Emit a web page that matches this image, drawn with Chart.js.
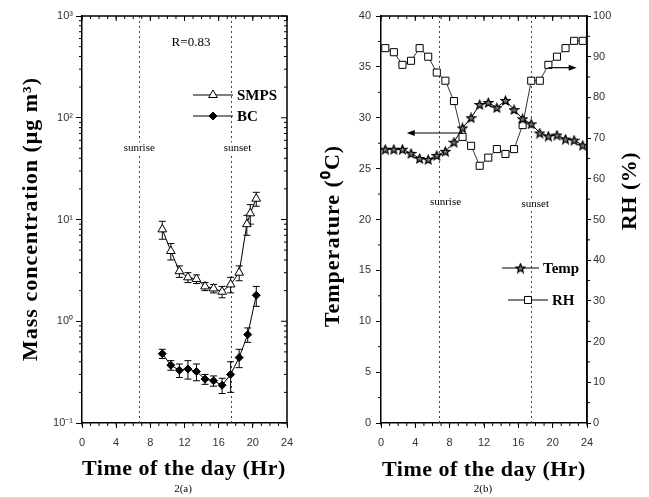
<!DOCTYPE html>
<html>
<head>
<meta charset="utf-8">
<script src="https://cdn.jsdelivr.net/npm/chart.js@4.4.1/dist/chart.umd.min.js"></script>
<style>
html, body { margin:0; padding:0; background:#fff; }
#ca { position:absolute; left:0; top:0; }
#cb { position:absolute; left:320px; top:0; }
</style>
</head>
<body>
<canvas id="ca" width="320" height="497"></canvas>
<canvas id="cb" width="329" height="497"></canvas>
<script>
// 2(a) mass concentration
var smpsHour = [9.4, 10.4, 11.4, 12.4, 13.4, 14.4, 15.4, 16.4, 17.4, 18.4, 19.3, 19.7, 20.4];
var smpsMass = [8.0, 4.9, 3.1, 2.7, 2.6, 2.2, 2.1, 1.95, 2.3, 3.0, 9.0, 11.5, 16.0];
var smpsErr  = [1.6, 0.9, 0.4, 0.3, 0.25, 0.2, 0.2, 0.25, 0.4, 0.5, 2.0, 2.5, 2.5];
var bcHour = [9.4, 10.4, 11.4, 12.4, 13.4, 14.4, 15.4, 16.4, 17.4, 18.4, 19.4, 20.4];
var bcMass = [0.48, 0.37, 0.33, 0.34, 0.32, 0.27, 0.26, 0.235, 0.3, 0.44, 0.74, 1.8];
var bcErr  = [0.05, 0.04, 0.05, 0.07, 0.06, 0.03, 0.03, 0.04, 0.1, 0.09, 0.12, 0.4];
var massTicks = [0.1, 1, 10, 100, 1000];

// 2(b) temperature and RH
var hours = [0.5, 1.5, 2.5, 3.5, 4.5, 5.5, 6.5, 7.5, 8.5, 9.5, 10.5, 11.5,
             12.5, 13.5, 14.5, 15.5, 16.5, 17.5, 18.5, 19.5, 20.5, 21.5, 22.5, 23.5];
var temp = [26.9, 26.9, 26.9, 26.5, 26.0, 25.9, 26.3, 26.7, 27.6, 29.0, 30.0, 31.3,
            31.5, 31.0, 31.7, 30.8, 29.9, 29.4, 28.5, 28.2, 28.3, 27.9, 27.8, 27.3];
var rh = [92.1, 91.1, 88.0, 89.0, 92.1, 90.0, 86.1, 84.1, 79.1, 70.3, 68.1, 63.2,
          65.2, 67.3, 66.1, 67.3, 73.2, 84.1, 84.1, 88.0, 90.0, 92.1, 93.9, 93.9];

var hourTicks = [0, 4, 8, 12, 16, 20, 24];
var sunrise = 6.7, sunset = 17.5;

function pts(xs, ys) { return xs.map(function(x, i){ return {x:x, y:ys[i]}; }); }
function range(a, b, s) { var r = []; for (var v = a; v <= b + 1e-9; v += s) r.push(v); return r; }

var sup = {'-1':'⁻¹', '0':'⁰', '1':'¹', '2':'²', '3':'³'};
var tickFont = {family:'Liberation Sans, Arial', size:11};
var tickColor = '#333';

function makeStar(size) {
  var c = document.createElement('canvas');
  c.width = c.height = size;
  var g = c.getContext('2d');
  var r = size / 2 - 1, cx = size / 2, cy = size / 2 + 0.5;
  g.beginPath();
  for (var i = 0; i < 10; i++) {
    var a = -Math.PI / 2 + i * Math.PI / 5;
    var rr = i % 2 ? r * 0.45 : r;
    g.lineTo(cx + rr * Math.cos(a), cy + rr * Math.sin(a));
  }
  g.closePath();
  g.fillStyle = '#777'; g.fill();
  g.lineWidth = 1.3; g.strokeStyle = '#000'; g.stroke();
  return c;
}
var star = makeStar(11);

function tickLine(ctx, scale, values, len, side, ca) {
  ctx.beginPath();
  values.forEach(function(v){
    var p = scale.getPixelForValue(v);
    if (side === 'bottom') { ctx.moveTo(p, ca.bottom); ctx.lineTo(p, ca.bottom + len); }
    if (side === 'top') { ctx.moveTo(p, ca.top); ctx.lineTo(p, ca.top - len); }
    if (side === 'left') { ctx.moveTo(ca.left, p); ctx.lineTo(ca.left - len, p); }
    if (side === 'right') { ctx.moveTo(ca.right, p); ctx.lineTo(ca.right + len, p); }
  });
  ctx.stroke();
}

var extras = {
  id: 'extras',
  beforeDatasetsDraw: function(chart, args, o) {
    var ctx = chart.ctx, ca = chart.chartArea, sx = chart.scales.x;
    ctx.save();
    // sunrise / sunset lines
    ctx.strokeStyle = '#444'; ctx.lineWidth = 1; ctx.setLineDash([2, 3]);
    [sunrise, sunset].forEach(function(h){
      var x = Math.round(sx.getPixelForValue(h)) + 0.5;
      ctx.beginPath(); ctx.moveTo(x, ca.top); ctx.lineTo(x, ca.bottom); ctx.stroke();
    });
    ctx.setLineDash([]);
    // error bars
    ctx.strokeStyle = '#000';
    chart.data.datasets.forEach(function(ds, i){
      if (!ds.err) return;
      var sy = chart.scales[ds.yAxisID || 'y'];
      ds.data.forEach(function(p, j){
        var x = sx.getPixelForValue(p.x);
        var y1 = sy.getPixelForValue(p.y + ds.err[j]);
        var y2 = sy.getPixelForValue(Math.max(p.y - ds.err[j], 1e-3));
        ctx.beginPath();
        ctx.moveTo(x, y1); ctx.lineTo(x, y2);
        ctx.moveTo(x - 3.5, y1); ctx.lineTo(x + 3.5, y1);
        ctx.moveTo(x - 3.5, y2); ctx.lineTo(x + 3.5, y2);
        ctx.stroke();
      });
    });
    ctx.restore();
  },
  afterDraw: function(chart, args, o) {
    var ctx = chart.ctx, ca = chart.chartArea, sx = chart.scales.x;
    ctx.save();
    ctx.strokeStyle = '#000'; ctx.fillStyle = '#000';
    // frame
    ctx.lineWidth = 1.5;
    ctx.beginPath();
    ctx.moveTo(ca.left, ca.top); ctx.lineTo(ca.right, ca.top); ctx.lineTo(ca.right, ca.bottom);
    ctx.stroke();
    // ticks
    ctx.lineWidth = 1;
    var minorX = range(0, 24, 1);
    tickLine(ctx, sx, minorX, 3, 'bottom', ca);
    tickLine(ctx, sx, minorX, -3, 'top', ca);
    tickLine(ctx, sx, hourTicks, -5, 'top', ca);
    o.yticks.forEach(function(t){
      tickLine(ctx, chart.scales[t.scale], t.values, t.len, t.side, ca);
    });
    // sunrise / sunset labels
    ctx.font = '11px "Liberation Serif", serif';
    ctx.textAlign = 'center'; ctx.textBaseline = 'middle';
    o.sunLabels.forEach(function(s){
      var x = sx.getPixelForValue(s.h) + s.dx;
      var y = chart.scales[s.scale].getPixelForValue(s.v);
      var w = ctx.measureText(s.text).width;
      ctx.fillStyle = '#fff'; ctx.fillRect(x - w / 2 - 1, y - 6, w + 2, 12);
      ctx.fillStyle = '#000'; ctx.fillText(s.text, x, y);
    });
    // arrows
    (o.arrows || []).forEach(function(a){
      var sy = chart.scales[a.scale];
      var x1 = sx.getPixelForValue(a.from[0]), y1 = sy.getPixelForValue(a.from[1]);
      var x2 = sx.getPixelForValue(a.to[0]), y2 = sy.getPixelForValue(a.to[1]);
      var d = x2 > x1 ? 1 : -1;
      ctx.lineWidth = 1.2;
      ctx.beginPath(); ctx.moveTo(x1, y1); ctx.lineTo(x2 - d * 6, y2); ctx.stroke();
      ctx.beginPath(); ctx.moveTo(x2, y2); ctx.lineTo(x2 - d * 8, y2 - 3); ctx.lineTo(x2 - d * 8, y2 + 3);
      ctx.closePath(); ctx.fill();
    });
    // legend
    ctx.lineWidth = 1;
    o.legend.forEach(function(l){
      ctx.strokeStyle = '#000';
      ctx.beginPath(); ctx.moveTo(l.x0, l.y); ctx.lineTo(l.x1, l.y); ctx.stroke();
      ctx.fillStyle = l.fill;
      Chart.helpers.drawPoint(ctx, {pointStyle:l.style, radius:l.r, borderWidth:1, rotation:0}, (l.x0 + l.x1) / 2, l.y);
      ctx.fillStyle = '#000';
      ctx.font = 'bold 15px "Liberation Serif", serif';
      ctx.textAlign = 'left'; ctx.textBaseline = 'middle';
      ctx.fillText(l.text, l.x1 + 4, l.y + 1);
    });
    // texts
    o.texts.forEach(function(t){
      ctx.save();
      ctx.translate(t.x, t.y);
      if (t.rot) ctx.rotate(-Math.PI / 2);
      ctx.font = t.font;
      ctx.letterSpacing = t.ls || '0px';
      ctx.textAlign = 'center'; ctx.textBaseline = 'middle';
      ctx.fillStyle = '#000';
      ctx.fillText(t.text, 0, 0);
      ctx.restore();
    });
    ctx.restore();
  }
};

function xScale() {
  return {
    type:'linear', min:0, max:24, position:'bottom',
    afterBuildTicks: function(s){ s.ticks = hourTicks.map(function(v){ return {value:v}; }); },
    ticks:{font:tickFont, color:tickColor, padding:8, maxRotation:0},
    grid:{drawOnChartArea:false, tickLength:5, color:'#000'},
    border:{color:'#000', width:1.5},
    afterFit: function(s){ s.height = 74; }
  };
}

var titleFont = 'bold 22px "Liberation Serif", "Times New Roman", serif';
var capFont = '11px "Liberation Serif", serif';

var logMinor = [];
[0.1, 1, 10, 100].forEach(function(d){ for (var k = 2; k <= 9; k++) logMinor.push(d * k); });

new Chart(document.getElementById('ca'), {
  type:'line',
  data:{datasets:[
    {label:'SMPS', data:pts(smpsHour, smpsMass), err:smpsErr, borderColor:'#000', borderWidth:1,
     pointStyle:'triangle', pointRadius:5, pointBackgroundColor:'#fff', pointBorderColor:'#000', pointBorderWidth:1},
    {label:'BC', data:pts(bcHour, bcMass), err:bcErr, borderColor:'#000', borderWidth:1,
     pointStyle:'rectRot', pointRadius:4, pointBackgroundColor:'#000', pointBorderColor:'#000', pointBorderWidth:1}
  ]},
  options:{
    responsive:false, animation:false,
    layout:{padding:{left:0, right:33, top:16, bottom:0}},
    elements:{line:{tension:0}},
    plugins:{
      legend:{display:false}, tooltip:{enabled:false},
      extras:{
        yticks:[
          {scale:'y', values:logMinor, len:3, side:'left'},
          {scale:'y', values:logMinor, len:-3, side:'right'},
          {scale:'y', values:massTicks, len:-6, side:'right'}
        ],
        sunLabels:[
          {text:'sunrise', h:sunrise, dx:0, scale:'y', v:50},
          {text:'sunset', h:sunset, dx:6, scale:'y', v:50}
        ],
        legend:[
          {text:'SMPS', x0:193, x1:233, y:95, style:'triangle', r:5, fill:'#fff'},
          {text:'BC', x0:193, x1:233, y:116, style:'rectRot', r:4, fill:'#000'}
        ],
        texts:[
          {text:'R=0.83', x:191, y:43, font:'13px "Liberation Serif", serif'},
          {text:'Mass concentration (μg m³)', x:31, y:219, rot:true, font:titleFont, ls:'1px'},
          {text:'Time of the day (Hr)', x:184, y:469, font:titleFont, ls:'0.5px'},
          {text:'2(a)', x:183, y:489, font:capFont}
        ]
      }
    },
    scales:{
      x:xScale(),
      y:{
        type:'logarithmic', min:0.1, max:1000, position:'left',
        afterBuildTicks: function(s){ s.ticks = massTicks.map(function(v){ return {value:v}; }); },
        ticks:{font:tickFont, color:tickColor, padding:3,
          callback:function(v){ return '10' + sup[String(Math.round(Math.log10(v)))]; }},
        grid:{drawOnChartArea:false, tickLength:6, color:'#000'},
        border:{color:'#000', width:1.5},
        afterFit:function(s){ s.width = 82; }
      }
    }
  },
  plugins:[extras]
});

new Chart(document.getElementById('cb'), {
  type:'line',
  data:{datasets:[
    {label:'Temp', data:pts(hours, temp), yAxisID:'y', borderColor:'#000', borderWidth:1,
     pointStyle:star, pointRadius:6},
    {label:'RH', data:pts(hours, rh), yAxisID:'y2', borderColor:'#333', borderWidth:1,
     pointStyle:'rect', pointRadius:5, pointBackgroundColor:'#fff', pointBorderColor:'#000', pointBorderWidth:1}
  ]},
  options:{
    responsive:false, animation:false,
    layout:{padding:{left:0, right:0, top:16, bottom:0}},
    elements:{line:{tension:0}},
    plugins:{
      legend:{display:false}, tooltip:{enabled:false},
      extras:{
        yticks:[
          {scale:'y', values:range(2.5, 37.5, 5), len:3, side:'left'},
          {scale:'y2', values:range(5, 95, 10), len:3, side:'right'}
        ],
        sunLabels:[
          {text:'sunrise', h:sunrise, dx:7, scale:'y', v:21.7},
          {text:'sunset', h:sunset, dx:4, scale:'y', v:21.5}
        ],
        arrows:[
          {scale:'y', from:[9.5, 28.5], to:[3.0, 28.5]},
          {scale:'y2', from:[19.5, 87.3], to:[22.8, 87.3]}
        ],
        legend:[
          {text:'Temp', x0:182, x1:219, y:268, style:star, r:6, fill:'#fff'},
          {text:'RH', x0:188, x1:228, y:300, style:'rect', r:5, fill:'#fff'}
        ],
        texts:[
          {text:'Temperature (⁰C)', x:13, y:236, rot:true, font:titleFont, ls:'1px'},
          {text:'RH (%)', x:310, y:191, rot:true, font:titleFont, ls:'0.5px'},
          {text:'Time of the day (Hr)', x:164, y:470, font:titleFont, ls:'0.5px'},
          {text:'2(b)', x:163, y:489, font:capFont}
        ]
      }
    },
    scales:{
      x:xScale(),
      y:{
        type:'linear', min:0, max:40, position:'left',
        ticks:{stepSize:5, font:tickFont, color:tickColor, padding:5},
        grid:{drawOnChartArea:false, tickLength:5, color:'#000'},
        border:{color:'#000', width:1.5},
        afterFit:function(s){ s.width = 61; }
      },
      y2:{
        type:'linear', min:0, max:100, position:'right',
        ticks:{stepSize:10, font:tickFont, color:tickColor, padding:2},
        grid:{drawOnChartArea:false, tickLength:4, color:'#000'},
        border:{color:'#000', width:1.5},
        afterFit:function(s){ s.width = 62; }
      }
    }
  },
  plugins:[extras]
});
</script>
</body>
</html>
